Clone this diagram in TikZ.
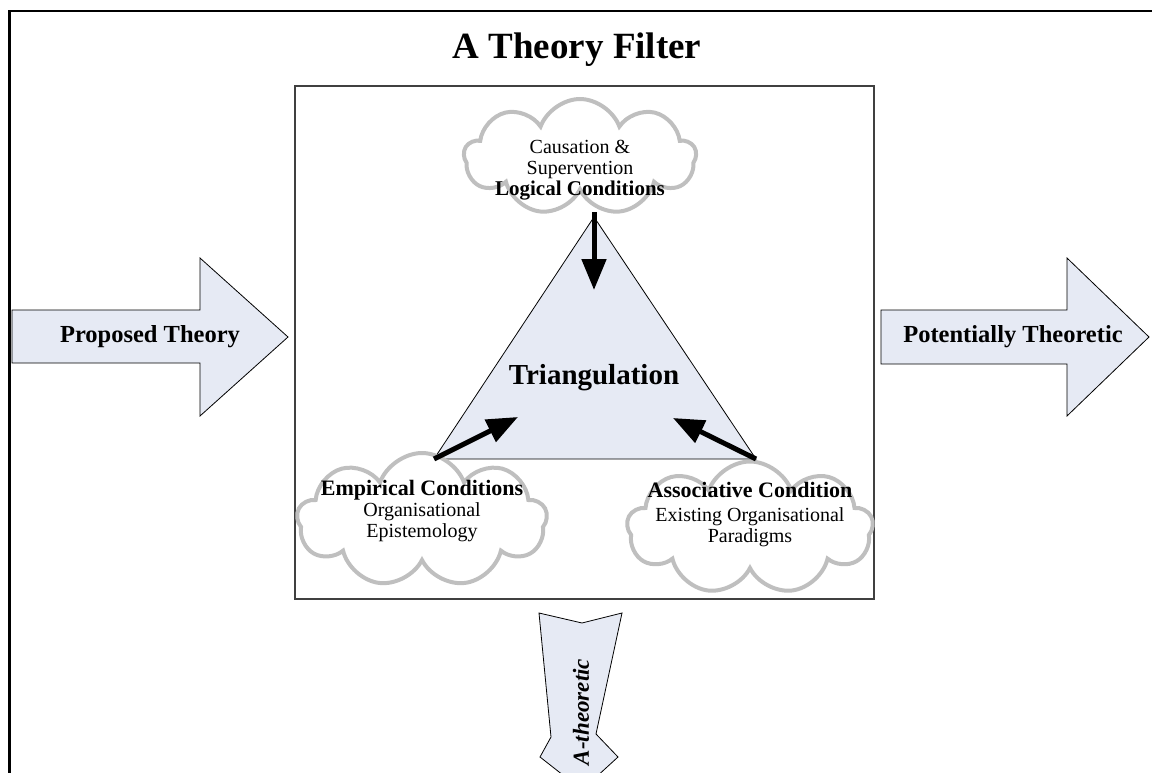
\documentclass[tikz,border=0pt]{standalone}
\usepackage{fontspec}
\setmainfont{Liberation Serif}
\usetikzlibrary{shapes.symbols,arrows.meta}
\definecolor{panel}{HTML}{E6EAF4}
\definecolor{puff}{HTML}{BFBFBF}
\begin{document}
\begin{tikzpicture}[x=1pt,y=-1pt,
  blockarrow/.style={draw=black, line width=0.8, fill=panel, line join=miter},
  puffcloud/.style={cloud, cloud puffs=9, cloud puff arc=140, cloud ignores aspect,
    draw=puff, line width=4, fill=white, inner sep=0pt},
  pointer/.style={line width=5, -{Triangle[length=31pt,width=24pt]}},
  lbl/.style={align=center, inner sep=0pt, font=\fontsize{20pt}{21pt}\selectfont},
  bigbold/.style={inner sep=0pt, font=\bfseries\fontsize{24.5pt}{26pt}\selectfont}]
\useasboundingbox (0,0) rectangle (1152,773);
\clip (0,0) rectangle (1152,773);

% outer frame (runs off the right and bottom edges)
\draw[line width=2.6] (1170,11) -- (9.5,11) -- (9.5,790);

% title
\node[inner sep=0pt, font=\bfseries\fontsize{37pt}{40pt}\selectfont] (title) at (577,50) {A Theory Filter};

% filter panel
\draw[black!75, line width=1.2] (295,86) rectangle (874,599);

% input and output block arrows
\draw[blockarrow] (12,310) -- (200,310) -- (200,258) -- (288,337) -- (200,416)
  -- (200,363) -- (12,363) -- cycle;
\node[bigbold] (proposed) at (150,337) {Proposed Theory};

\draw[blockarrow] (881,310) -- (1067,310) -- (1067,258) -- (1149,337) -- (1067,416)
  -- (1067,364) -- (881,364) -- cycle;
\node[bigbold] (potential) at (1013,337) {Potentially Theoretic};

\draw[blockarrow] (539,613) -- (582,623) -- (622,613) -- (596,734) -- (618,757)
  -- (582,790) -- (540,757) -- (551,737) -- cycle;
\node[inner sep=0pt, rotate=90, font=\bfseries\itshape\fontsize{23pt}{25pt}\selectfont]
  (atheoretic) at (581,712) {A-theoretic};

% triangulation triangle
\coordinate (apex) at (594,217);
\coordinate (left) at (434,459);
\coordinate (right) at (756,459);
\draw[fill=panel, line width=0.8] (apex) -- (left) -- (right) -- cycle;
\node[inner sep=0pt, font=\bfseries\fontsize{29pt}{31pt}\selectfont] (tri) at (594,378) {Triangulation};

% condition clouds
\node[puffcloud, minimum width=232pt, minimum height=116pt] (logical) at (580,157) {};
\node[puffcloud, minimum width=250pt, minimum height=134pt] (empirical) at (422,520) {};
\node[puffcloud, minimum width=246pt, minimum height=133pt] (associative) at (750,528) {};

\node[lbl] (logicaltext) at (580,170)
  {Causation \&\\Supervention\\{\bfseries\fontsize{21pt}{21pt}\selectfont Logical Conditions}};
\node[lbl] (empiricaltext) at (422,511)
  {{\bfseries\fontsize{22pt}{21pt}\selectfont Empirical Conditions}\\Organisational\\Epistemology};
\node[lbl] (associativetext) at (750,515)
  {{\bfseries\fontsize{22pt}{21pt}\selectfont Associative Condition}\\[3pt]Existing Organisational\\Paradigms};

% converging arrows
\coordinate (logicalfoot) at (594,212);
\coordinate (downtip) at (594,290);
\coordinate (lefttip) at (518,417);
\coordinate (righttip) at (673,418);
\draw[pointer] (logicalfoot) -- (downtip);
\draw[pointer] (left) -- (lefttip);
\draw[pointer] (right) -- (righttip);
\end{tikzpicture}
\end{document}
